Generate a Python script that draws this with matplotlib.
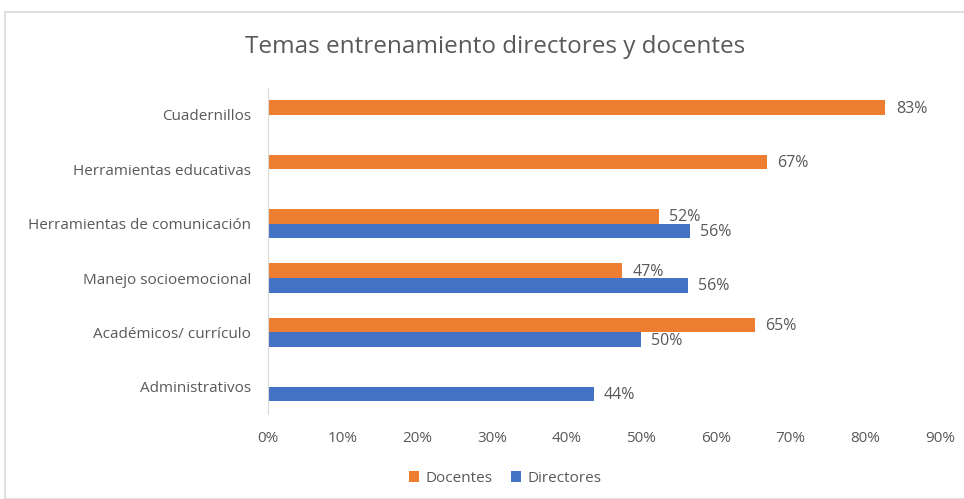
import matplotlib.pyplot as plt
from matplotlib.patches import Rectangle
import numpy as np

plt.rcParams['font.family'] = ['Open Sans', 'DejaVu Sans']

categorias = ['Cuadernillos', 'Herramientas educativas', 'Herramientas de comunicación',
              'Manejo socioemocional', 'Académicos/ currículo', 'Administrativos']
docentes = [0.827, 0.668, 0.523, 0.474, 0.652, None]
directores = [None, None, 0.565, 0.562, 0.499, 0.436]
xticks = [0, 0.1, 0.2, 0.3, 0.4, 0.5, 0.6, 0.7, 0.8, 0.9]

naranja = '#ED7D31'
azul = '#4472C4'
gris = '#595959'

fig = plt.figure(figsize=(9.64, 4.99), dpi=100)
fig.patches.append(Rectangle((5 / 964, 0), 1, 1 - 12 / 499, transform=fig.transFigure,
                             fill=False, edgecolor='#d9d9d9', linewidth=1.2))
ax = fig.add_axes([268 / 964, 85 / 499, 672 / 964, 326.4 / 499])

y = np.arange(len(categorias))
h = 0.27
for i, v in enumerate(docentes):
    if v is not None:
        ax.barh(y[i] - h / 2, v, height=h, color=naranja)
        ax.text(v + 0.014, y[i] - h / 2 + 0.02, f'{round(v * 100):.0f}%', va='center', ha='left',
                fontsize=11.5, color=gris)
for i, v in enumerate(directores):
    if v is not None:
        ax.barh(y[i] + h / 2, v, height=h, color=azul)
        ax.text(v + 0.014, y[i] + h / 2 + 0.02, f'{round(v * 100):.0f}%', va='center', ha='left',
                fontsize=11.5, color=gris)

ax.set_ylim(len(categorias) - 0.5, -0.5)
ax.set_xlim(0, 0.9)
ax.set_yticks(y)
ax.set_yticklabels(categorias)
ax.set_xticks(xticks)
ax.set_xticklabels([f'{round(t * 100)}%' for t in xticks])
ax.tick_params(length=0, labelsize=11, colors=gris)
ax.tick_params(axis='y', pad=12)
ax.tick_params(axis='x', pad=12)
for s in ['top', 'right', 'bottom']:
    ax.spines[s].set_visible(False)
ax.spines['left'].set_color('#d9d9d9')

fig.text(495 / 964, 1 - 47 / 499, 'Temas entrenamiento directores y docentes', fontsize=17.5,
         color=gris, ha='center', va='center')

ax.barh([0], [0], color=naranja, label='Docentes')
ax.barh([0], [0], color=azul, label='Directores')
fig.legend(loc='center', bbox_to_anchor=(505 / 964, 1 - 478 / 499), ncol=2, frameon=False,
           fontsize=11, labelcolor=gris, handlelength=0.7, handleheight=0.7,
           handletextpad=0.4, columnspacing=1.2)

fig.savefig('out.png', dpi=100)
